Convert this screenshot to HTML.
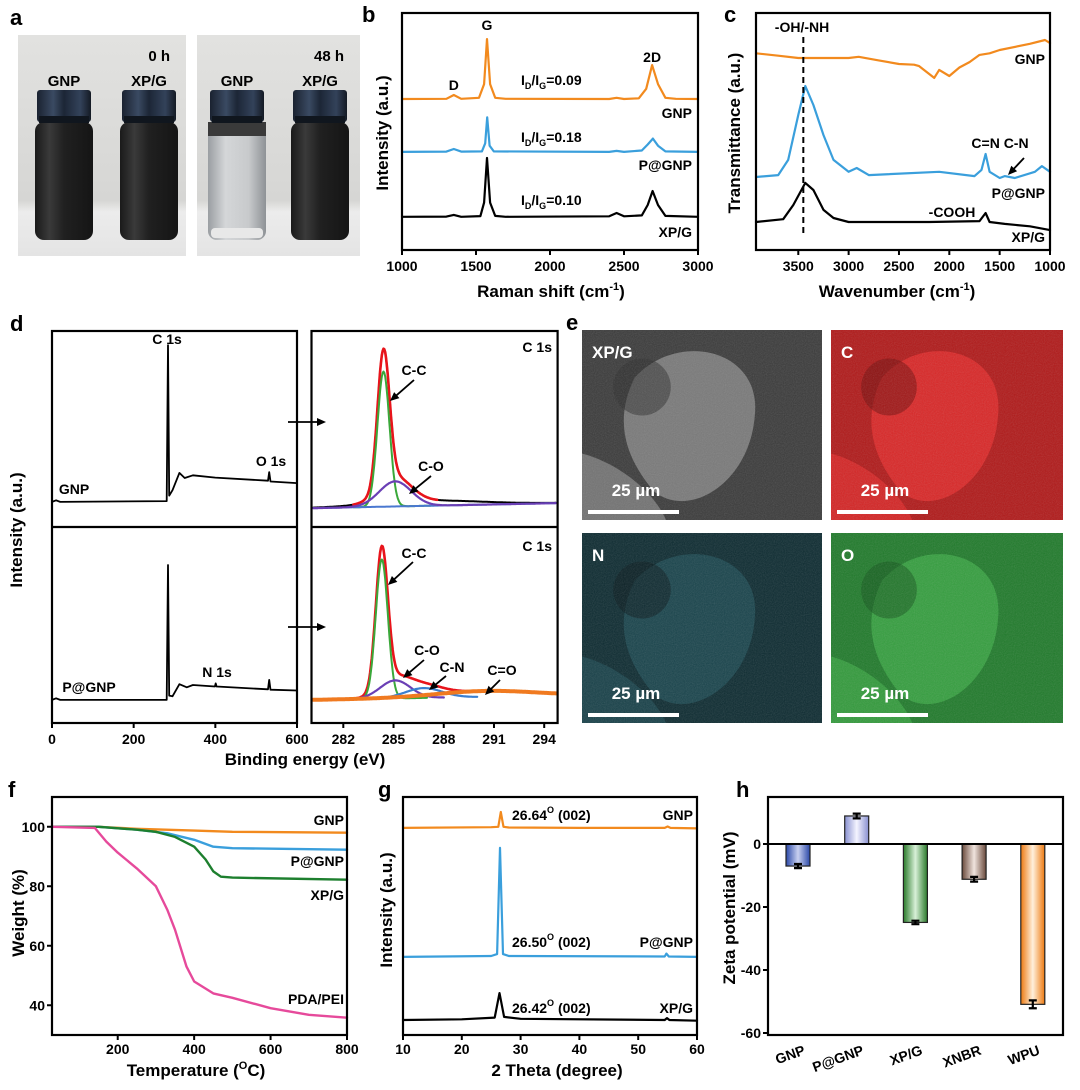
<!DOCTYPE html>
<html><head><meta charset="utf-8"><style>
html,body{margin:0;padding:0;background:#fff}
svg{display:block;font-family:"Liberation Sans",Arial,sans-serif;font-weight:bold}
</style></head><body>
<svg id="fig" xmlns="http://www.w3.org/2000/svg" width="1080" height="1090" viewBox="0 0 1080 1090">
<defs>
<linearGradient id="bg1" x1="0" y1="0" x2="0" y2="1"><stop offset="0" stop-color="#e2e2e0"/><stop offset="0.75" stop-color="#d6d6d4"/><stop offset="0.8" stop-color="#ececec"/><stop offset="1" stop-color="#e4e4e4"/></linearGradient>
<linearGradient id="cap" x1="0" y1="0" x2="1" y2="0"><stop offset="0" stop-color="#1a2230"/><stop offset="0.3" stop-color="#3a4a62"/><stop offset="0.5" stop-color="#1c2636"/><stop offset="0.8" stop-color="#33425a"/><stop offset="1" stop-color="#141a24"/></linearGradient>
<linearGradient id="vdark" x1="0" y1="0" x2="1" y2="0"><stop offset="0" stop-color="#1a1a1a"/><stop offset="0.25" stop-color="#3a3a3a"/><stop offset="0.5" stop-color="#202020"/><stop offset="1" stop-color="#151515"/></linearGradient>
<linearGradient id="vclear" x1="0" y1="0" x2="1" y2="0"><stop offset="0" stop-color="#9a9ea2"/><stop offset="0.3" stop-color="#d4d6d8"/><stop offset="0.7" stop-color="#c8cacc"/><stop offset="1" stop-color="#8e9296"/></linearGradient>
<radialGradient id="semFlake" cx="0.5" cy="0.5" r="0.5"><stop offset="0" stop-color="#8a8a8a"/><stop offset="1" stop-color="#5a5a5a"/></radialGradient>
<filter id="noise" x="0" y="0" width="100%" height="100%"><feTurbulence type="fractalNoise" baseFrequency="0.9" numOctaves="1" result="n"/><feColorMatrix type="saturate" values="0"/><feComponentTransfer><feFuncA type="linear" slope="0.35"/></feComponentTransfer><feComposite in2="SourceGraphic" operator="in"/></filter>
<linearGradient id="hb0" x1="0" y1="0" x2="1" y2="0"><stop offset="0" stop-color="#2a48a8"/><stop offset="0.5" stop-color="#c8d0f0"/><stop offset="1" stop-color="#2a48a8"/></linearGradient>
<linearGradient id="hb1" x1="0" y1="0" x2="1" y2="0"><stop offset="0" stop-color="#8890d0"/><stop offset="0.5" stop-color="#f4f4ff"/><stop offset="1" stop-color="#8890d0"/></linearGradient>
<linearGradient id="hb2" x1="0" y1="0" x2="1" y2="0"><stop offset="0" stop-color="#2a7a2a"/><stop offset="0.5" stop-color="#d8f0d8"/><stop offset="1" stop-color="#2a7a2a"/></linearGradient>
<linearGradient id="hb3" x1="0" y1="0" x2="1" y2="0"><stop offset="0" stop-color="#6a4a3c"/><stop offset="0.5" stop-color="#f0e4de"/><stop offset="1" stop-color="#6a4a3c"/></linearGradient>
<linearGradient id="hb4" x1="0" y1="0" x2="1" y2="0"><stop offset="0" stop-color="#ee7a10"/><stop offset="0.5" stop-color="#fff0dc"/><stop offset="1" stop-color="#ee7a10"/></linearGradient>
</defs>
</svg>
<script>
// ---------- data ----------
// panel b Raman (x: cm-1, y: intensity a.u.)
const ramanGNP=[[1000,63.7],[1300,63.8],[1350,65.4],[1400,63.8],[1520,64.2],[1555,70],[1574,89],[1595,70],[1630,64.2],[1700,63.8],[2400,63.7],[2450,64.2],[2500,63.7],[2600,64],[2650,68],[2690,78],[2730,70],[2780,64.2],[2850,63.8],[3000,63.7]];
const ramanPGNP=[[1000,41.4],[1300,41.5],[1350,42.6],[1400,41.5],[1540,41.6],[1562,45],[1576,56],[1592,44],[1620,41.6],[2400,41.4],[2450,41.8],[2500,41.4],[2620,42],[2660,44.5],[2695,47],[2730,44],[2780,41.6],[3000,41.4]];
const ramanXPG=[[1000,14],[1300,14.1],[1350,14.8],[1400,14],[1530,14.3],[1555,20],[1574,38.8],[1595,20],[1630,14.4],[1700,14],[2400,14.2],[2450,15.6],[2500,14.2],[2620,14.6],[2660,19],[2693,24.9],[2730,19],[2780,14.4],[3000,14]];
// panel c FTIR
const ftirGNP=[[3920,83],[3700,82],[3500,81],[3000,81],[2900,81.5],[2700,80],[2500,78.5],[2350,78.2],[2300,77.6],[2150,72.6],[2100,76],[2000,73.4],[1900,77],[1800,79.3],[1700,82.3],[1600,83],[1500,84.4],[1200,87],[1050,88.6],[1000,87.3]];
const ftirPGNP=[[3920,30.8],[3700,31.6],[3600,38],[3500,57],[3430,69.2],[3350,61.2],[3250,48.5],[3150,38],[3000,33],[2920,34.6],[2800,31.6],[2100,33],[1750,31.2],[1680,33.8],[1640,40.5],[1600,33],[1500,30.4],[1450,31.2],[1350,30.4],[1150,33],[1080,35.4],[1000,33]];
const ftirXPG=[[3920,11.8],[3650,13],[3550,19],[3430,28.3],[3350,25.3],[3250,16.9],[3150,13.5],[3000,11.8],[2200,11.8],[1700,12.2],[1640,15.6],[1600,11.8],[1450,11],[1200,10],[1000,8.4]];
// panel d survey
const surveyGNP=[[0,56.4],[10,56.8],[20,56.4],[281,56.6],[284,96.4],[287,58],[295,59.4],[312,63.8],[325,62.5],[345,63.2],[400,62.6],[529,61.8],[532,64],[535,61.6],[600,61.2]];
const surveyPGNP=[[0,5.9],[10,6.3],[20,5.9],[281,5.9],[284,40.3],[287,7],[295,6.8],[312,9.9],[330,9.1],[345,9.7],[399,9.3],[401,10.1],[403,9.3],[529,8.6],[532,11],[535,8.5],[600,8.3]];
// panel d XPS C1s components [center eV, height, sigma]
const xpsTopBase=[54.8,56.1];
const xpsTopCC=[284.4,34.5,0.36];
const xpsTopCO=[285.1,6.4,0.95];
const xpsTopTail=[287.0,1.3,3.2];
const xpsBotBase=[5.9,7.0];
const xpsBotCC=[284.3,35.5,0.36];
const xpsBotCO=[285.1,4.6,0.9];
const xpsBotCN=[286.8,2.5,1.1];
const xpsBotCdO=[290.5,1.5,3];
// panel f TGA
const tgaGNP=[[28,100],[150,100],[250,99.3],[400,98.7],[500,98.3],[800,98]];
const tgaPGNP=[[28,100],[150,100],[250,99],[330,97.8],[400,95.6],[450,93.3],[500,92.8],[800,92.3]];
const tgaXPG=[[28,100],[150,100],[250,99],[300,98.3],[350,96.6],[400,93.3],[430,89],[450,85],[470,83.2],[500,82.9],[800,82.2]];
const tgaPDA=[[28,100],[140,99.6],[170,95],[200,91.3],[250,86],[300,80],[330,72],[350,65.4],[380,53],[400,48],[450,44],[500,42.5],[600,39],[700,36.8],[800,35.8]];
// panel g XRD
const xrdGNP=[[10,87],[25,87.3],[26.2,87.5],[26.64,93.7],[27.1,87.5],[28,87.2],[40,87],[54.5,87],[55,87.6],[55.5,87],[60,86.8]];
const xrdPGNP=[[10,32.8],[25,33.2],[26.0,34],[26.5,78.6],[27.0,34],[28,33.2],[54.5,33],[54.8,34.2],[55.2,33],[60,32.8]];
const xrdXPG=[[10,6.3],[20,6.6],[25.6,7.3],[26.42,17.6],[27.2,7.6],[30,6.8],[54.5,6.3],[54.9,7.1],[55.3,6.3],[60,6]];
// panel h zeta
const zetaCats=["GNP","P@GNP","XP/G","XNBR","WPU"];
const zetaVals=[-7,8.9,-24.9,-11.2,-50.9];
const zetaErr=[0.4,0.5,0.3,0.5,1.0];
const zetaTicks=[0,-20,-40,-60];

// ---------- helpers ----------
const NS="http://www.w3.org/2000/svg";
const svg=document.getElementById('fig');
function mk(tag,attrs,parent,name,inter){
  const el=document.createElementNS(NS,tag);
  for(const k in attrs) el.setAttribute(k,attrs[k]);
  
  
  (parent||svg).appendChild(el);
  return el;
}
function txt(x,y,s,size,anchor,name,parent,extra){
  const a=Object.assign({x:x,y:y,'font-size':size,'text-anchor':anchor||'middle',fill:'#000'},extra||{});
  const t=mk('text',a,parent,name,false);
  t.textContent=s;
  return t;
}
function pathFrom(pts,sx,sy){return pts.map((p,i)=>(i?'L':'M')+sx(p[0]).toFixed(1)+' '+sy(p[1]).toFixed(1)).join(' ');}
function line(pts,sx,sy,color,w,name,parent){
  return mk('path',{d:pathFrom(pts,sx,sy),fill:'none',stroke:color,'stroke-width':w,'stroke-linejoin':'round','stroke-linecap':'round'},parent,name,false);
}
function box(x0,y0,x1,y1,name){mk('rect',{x:x0,y:y0,width:x1-x0,height:y1-y0,fill:'none',stroke:'#000','stroke-width':2.2},svg,name,false);}
function xticks(vals,sx,y,labY,name,size){
  const g=mk('g',{},svg,name,false);
  vals.forEach(v=>{mk('line',{x1:sx(v),x2:sx(v),y1:y,y2:y+5,stroke:'#000','stroke-width':2},g,'x-tick',false);
    txt(sx(v),labY,String(v),size||14,'middle','x-tick-label',g);});
}
function yticks(vals,sy,x,name){
  const g=mk('g',{},svg,name,false);
  vals.forEach(v=>{mk('line',{x1:x-5,x2:x,y1:sy(v),y2:sy(v),stroke:'#000','stroke-width':2},g,'y-tick',false);
    txt(x-7,sy(v)+5,String(v),14,'end','y-tick-label',g);});
}
function arrow(x1,y1,x2,y2,name){
  const g=mk('g',{},svg,name,false);
  const a=Math.atan2(y2-y1,x2-x1),L=9,W=4;
  mk('line',{x1:x1,y1:y1,x2:x2-Math.cos(a)*6,y2:y2-Math.sin(a)*6,stroke:'#000','stroke-width':1.8},g,'arrow-shaft',false);
  const px=x2-Math.cos(a)*L,py=y2-Math.sin(a)*L;
  mk('polygon',{points:`${x2},${y2} ${px-Math.sin(a)*W},${py+Math.cos(a)*W} ${px+Math.sin(a)*W},${py-Math.cos(a)*W}`,fill:'#000'},g,'arrow-head',false);
}
function rotTitle(x,y,s,name,size){return txt(x,y,s,size||17,'middle',name,svg,{transform:`rotate(-90 ${x} ${y})`});}
function supTitle(x,y,pre,sup,post,name){
  const t=mk('text',{x:x,y:y,'font-size':17,'text-anchor':'middle'},svg,name,false);
  t.appendChild(document.createTextNode(pre));
  const s=document.createElementNS(NS,'tspan');s.setAttribute('dy','-7');s.setAttribute('font-size','11');s.textContent=sup;t.appendChild(s);
  const p=document.createElementNS(NS,'tspan');p.setAttribute('dy','7');p.textContent=post;t.appendChild(p);
  return t;
}
function ratioLabel(x,y,val,name){
  const t=mk('text',{x:x,y:y,'font-size':14,'text-anchor':'start'},svg,name,false);
  t.appendChild(document.createTextNode('I'));
  let s=document.createElementNS(NS,'tspan');s.setAttribute('dy','4');s.setAttribute('font-size','9');s.textContent='D';t.appendChild(s);
  s=document.createElementNS(NS,'tspan');s.setAttribute('dy','-4');s.textContent='/I';t.appendChild(s);
  s=document.createElementNS(NS,'tspan');s.setAttribute('dy','4');s.setAttribute('font-size','9');s.textContent='G';t.appendChild(s);
  s=document.createElementNS(NS,'tspan');s.setAttribute('dy','-4');s.textContent='='+val;t.appendChild(s);
}
function letter(x,y,s){txt(x,y,s,22,'start','panel-label-'+s);}
const ORANGE='#f28a1e',BLUE='#3a9fdc',GREEN='#1d7f2e',PINK='#e64a9b';

// ---------- panel a : photos ----------
letter(10,25,'a');
function photo(x0,x1,vials,timeLabel,name){
  const g=mk('g',{},svg,name,false);
  mk('rect',{x:x0,y:35,width:x1-x0,height:221,fill:'url(#bg1)'},g,'photo-background',false);
  vials.forEach(v=>{
    const cx=v.cx;
    mk('rect',{x:cx-29,y:122,width:58,height:118,rx:9,fill:v.clear?'url(#vclear)':'url(#vdark)'},g,'vial-body',false);
    if(v.clear){mk('rect',{x:cx-29,y:122,width:58,height:14,fill:'#3a3a3a'},g,'vial-dark-top',false);
      mk('rect',{x:cx-26,y:228,width:52,height:10,rx:4,fill:'#e8e8e8'},g,'vial-sediment',false);}
    mk('rect',{x:cx-27,y:90,width:54,height:32,rx:3,fill:'url(#cap)'},g,'vial-cap',false);
    mk('rect',{x:cx-25,y:116,width:50,height:7,fill:'#10161e'},g,'vial-neck',false);
  });
  txt(x1-16,61,timeLabel,15,'end','photo-time-label',g);
  txt(vials[0].cx,86,'GNP',15,'middle','vial-label-gnp',g);
  txt(vials[1].cx,86,'XP/G',15,'middle','vial-label-xpg',g);
}
photo(18,186,[{cx:64,clear:false},{cx:149,clear:false}],'0 h','photo-0h');
photo(197,360,[{cx:237,clear:true},{cx:320,clear:false}],'48 h','photo-48h');

// ---------- panel b : Raman ----------
letter(362,22,'b');
const bx=v=>402+(v-1000)/2000*296, by=v=>250-v*2.37;
line(ramanGNP,bx,by,ORANGE,2.2,'raman-gnp-line');
line(ramanPGNP,bx,by,BLUE,2.2,'raman-pgnp-line');
line(ramanXPG,bx,by,'#000',2.2,'raman-xpg-line');
box(402,13,698,250,'raman-plot-frame');
xticks([1000,1500,2000,2500,3000],bx,250,271,'raman-x-axis');
supTitle(551,297,'Raman shift (cm','-1',')','raman-x-title');
rotTitle(388,133,'Intensity (a.u.)','raman-y-title');
txt(bx(1574),30,'G',14,'middle','raman-label-g');
txt(bx(1350),90,'D',14,'middle','raman-label-d');
txt(bx(2690),62,'2D',14,'middle','raman-label-2d');
ratioLabel(521,85,'0.09','raman-ratio-gnp');
ratioLabel(521,142,'0.18','raman-ratio-pgnp');
ratioLabel(521,205,'0.10','raman-ratio-xpg');
txt(692,118,'GNP',14,'end','raman-legend-gnp');
txt(692,170,'P@GNP',14,'end','raman-legend-pgnp');
txt(692,237,'XP/G',14,'end','raman-legend-xpg');

// ---------- panel c : FTIR ----------
letter(724,22,'c');
const cx_=v=>756+(3920-v)/2920*294, cy=v=>250-v*2.37;
line(ftirGNP,cx_,cy,ORANGE,2.2,'ftir-gnp-line');
line(ftirPGNP,cx_,cy,BLUE,2.2,'ftir-pgnp-line');
line(ftirXPG,cx_,cy,'#000',2.2,'ftir-xpg-line');
mk('line',{x1:cx_(3450),x2:cx_(3450),y1:37,y2:233,stroke:'#000','stroke-width':2,'stroke-dasharray':'6 4'},svg,'ftir-oh-dashed-line',false);
box(756,13,1050,250,'ftir-plot-frame');
xticks([3500,3000,2500,2000,1500,1000],cx_,250,271,'ftir-x-axis');
supTitle(897,297,'Wavenumber (cm','-1',')','ftir-x-title');
rotTitle(740,133,'Transmittance (a.u.)','ftir-y-title');
txt(802,32,'-OH/-NH',14,'middle','ftir-label-ohnh');
txt(1045,64,'GNP',14,'end','ftir-legend-gnp');
txt(1000,148,'C=N C-N',14,'middle','ftir-label-cn');
arrow(1024,158,1008,175,'ftir-cn-arrow');
txt(1045,198,'P@GNP',14,'end','ftir-legend-pgnp');
txt(952,217,'-COOH',14,'middle','ftir-label-cooh');
txt(1045,242,'XP/G',14,'end','ftir-legend-xpg');

// ---------- panel d : XPS ----------
letter(10,331,'d');
const dlx=v=>52+v/600*245, dy=v=>723-v*3.92;
line(surveyGNP,dlx,dy,'#000',1.8,'survey-gnp-line');
line(surveyPGNP,dlx,dy,'#000',1.8,'survey-pgnp-line');
box(52,331,297,723,'survey-plot-frame');
mk('line',{x1:52,x2:297,y1:527,y2:527,stroke:'#000','stroke-width':2.2},svg,'survey-divider',false);
xticks([0,200,400,600],dlx,723,744,'survey-x-axis');
txt(167,344,'C 1s',14,'middle','survey-label-c1s');
txt(271,466,'O 1s',14,'middle','survey-label-o1s');
txt(74,494,'GNP',14,'middle','survey-label-gnp');
txt(89,692,'P@GNP',14,'middle','survey-label-pgnp');
txt(217,677,'N 1s',14,'middle','survey-label-n1s');
rotTitle(22,530,'Intensity (a.u.)','xps-y-title');
txt(305,765,'Binding energy (eV)',17,'middle','xps-x-title');
arrow(288,422,326,422,'zoom-arrow-top');
arrow(288,627,326,627,'zoom-arrow-bottom');

const drx=v=>311.5+(v-280.1)/14.7*246.1;
function gauss(p,x){return p[1]*Math.exp(-((x-p[0])**2)/(2*p[2]*p[2]));}
function compLine(base,comps,x0,x1,color,w,name){
  const pts=[];
  for(let x=x0;x<=x1+1e-9;x+=0.05){
    const b=base[0]+(base[1]-base[0])*(x-280.1)/14.7;
    let s=b; comps.forEach(c=>{s+=gauss(c,x);});
    pts.push([x,s]);
  }
  return line(pts,drx,dy,color,w,name);
}
// top C1s
compLine(xpsTopBase,[xpsTopCC,xpsTopCO,xpsTopTail],280.2,294.7,'#000',2,'xps-gnp-raw');
compLine(xpsTopBase,[xpsTopCC,xpsTopCO,xpsTopTail],282.6,287.6,'#e8141b',2.6,'xps-gnp-envelope');
compLine(xpsTopBase,[xpsTopCC],282.6,287.2,'#3aa83a',2,'xps-gnp-cc');
compLine(xpsTopBase,[],280.2,294.7,'#4a78d0',2,'xps-gnp-baseline');
compLine(xpsTopBase,[xpsTopCO],280.2,294.7,'#6a3fb5',2.2,'xps-gnp-co');
// bottom C1s
compLine(xpsBotBase,[xpsBotCC,xpsBotCO,xpsBotCN,xpsBotCdO],282.4,292.5,'#e8141b',2.6,'xps-pgnp-envelope');
compLine(xpsBotBase,[xpsBotCC],282.4,287,'#3aa83a',2,'xps-pgnp-cc');
compLine(xpsBotBase,[xpsBotCO],283,288,'#6a3fb5',2.2,'xps-pgnp-co');
compLine(xpsBotBase,[xpsBotCN],283.5,290,'#3a7fd0',2.2,'xps-pgnp-cn');
compLine(xpsBotBase,[xpsBotCdO],280.2,294.7,'#f07a20',4,'xps-pgnp-cdo');
box(311.5,331,557.6,723,'xps-plot-frame');
mk('line',{x1:311.5,x2:557.6,y1:527,y2:527,stroke:'#000','stroke-width':2.2},svg,'xps-divider',false);
xticks([282,285,288,291,294],drx,723,744,'xps-x-axis');
txt(552,352,'C 1s',14,'end','xps-top-c1s');
txt(552,551,'C 1s',14,'end','xps-bottom-c1s');
txt(414,375,'C-C',14,'middle','xps-top-cc-label');arrow(414,380,390,401,'xps-top-cc-arrow');
txt(431,471,'C-O',14,'middle','xps-top-co-label');arrow(431,476,409,494,'xps-top-co-arrow');
txt(414,558,'C-C',14,'middle','xps-bot-cc-label');arrow(413,562,388,585,'xps-bot-cc-arrow');
txt(427,655,'C-O',14,'middle','xps-bot-co-label');arrow(424,660,403,678,'xps-bot-co-arrow');
txt(452,672,'C-N',14,'middle','xps-bot-cn-label');arrow(446,676,429,690,'xps-bot-cn-arrow');
txt(502,675,'C=O',14,'middle','xps-bot-cdo-label');arrow(500,680,485,695,'xps-bot-cdo-arrow');

// ---------- panel e : SEM / EDS ----------
letter(566,330,'e');
function emap(x0,y0,w,h,base,light,dark,label,name){
  const g=mk('g',{},svg,name,false);
  mk('rect',{x:x0,y:y0,width:w,height:h,fill:base},g,'map-background',false);
  mk('path',{d:`M${x0+w*0.22} ${y0+h*0.25} C ${x0+w*0.4} ${y0} ${x0+w*0.75} ${y0+h*0.1} ${x0+w*0.72} ${y0+h*0.45} C ${x0+w*0.7} ${y0+h*0.8} ${x0+w*0.45} ${y0+h} ${x0+w*0.3} ${y0+h*0.85} C ${x0+w*0.2} ${y0+h*0.7} ${x0+w*0.12} ${y0+h*0.5} ${x0+w*0.22} ${y0+h*0.25} Z`,fill:light,opacity:0.8},g,'map-flake',false);
  mk('path',{d:`M${x0} ${y0+h*0.65} C ${x0+w*0.15} ${y0+h*0.7} ${x0+w*0.3} ${y0+h*0.85} ${x0+w*0.35} ${y0+h} L ${x0} ${y0+h} Z`,fill:light,opacity:0.7},g,'map-lower-flake',false);
  mk('ellipse',{cx:x0+w*0.25,cy:y0+h*0.3,rx:w*0.12,ry:h*0.15,fill:dark,opacity:0.5},g,'map-dark-region',false);
  mk('rect',{x:x0,y:y0,width:w,height:h,fill:'#fff',filter:'url(#noise)',opacity:0.6},g,'map-noise',false);
  txt(x0+10,y0+28,label,17,'start','map-label',g,{fill:'#fff'});
  txt(x0+54,y0+h-24,'25 µm',17,'middle','scale-bar-label',g,{fill:'#fff'});
  mk('rect',{x:x0+6,y:y0+h-10,width:91,height:4,fill:'#fff'},g,'scale-bar',false);
}
emap(582,330,240,190,'#3a3a3a','#8a8a8a','#2a2a2a','XP/G','sem-image');
emap(831,330,232,190,'#b01818','#e42a2a','#6a0808','C','eds-map-carbon');
emap(582,533,240,190,'#0c2a30','#1c4a52','#061418','N','eds-map-nitrogen');
emap(831,533,232,190,'#1f7a2a','#3aa843','#105018','O','eds-map-oxygen');

// ---------- panel f : TGA ----------
letter(8,797,'f');
const fx=v=>52+(v-28)/772*295, fy=v=>1035-(v-30)/80*238;
line(tgaGNP,fx,fy,ORANGE,2.4,'tga-gnp-line');
line(tgaPGNP,fx,fy,BLUE,2.4,'tga-pgnp-line');
line(tgaXPG,fx,fy,GREEN,2.4,'tga-xpg-line');
line(tgaPDA,fx,fy,PINK,2.4,'tga-pdapei-line');
box(52,797,347,1035,'tga-plot-frame');
xticks([200,400,600,800],fx,1035,1054,'tga-x-axis');
yticks([40,60,80,100],fy,52,'tga-y-axis');
supTitle(196,1076,'Temperature (','O','C)','tga-x-title');
rotTitle(24,913,'Weight (%)','tga-y-title');
txt(344,825,'GNP',14,'end','tga-legend-gnp');
txt(344,866,'P@GNP',14,'end','tga-legend-pgnp');
txt(344,900,'XP/G',14,'end','tga-legend-xpg');
txt(344,1004,'PDA/PEI',14,'end','tga-legend-pdapei');

// ---------- panel g : XRD ----------
letter(378,797,'g');
const gx=v=>403+(v-10)/50*294, gy=v=>1035-v*2.38;
line(xrdGNP,gx,gy,ORANGE,2.2,'xrd-gnp-line');
line(xrdPGNP,gx,gy,BLUE,2.2,'xrd-pgnp-line');
line(xrdXPG,gx,gy,'#000',2.2,'xrd-xpg-line');
box(403,797,697,1035,'xrd-plot-frame');
xticks([10,20,30,40,50,60],gx,1035,1054,'xrd-x-axis');
txt(557,1076,'2 Theta (degree)',17,'middle','xrd-x-title');
rotTitle(392,910,'Intensity (a.u.)','xrd-y-title');
function peakLabel(y,val,name){
  const t=mk('text',{x:512,y:y,'font-size':14,'text-anchor':'start'},svg,name,false);
  t.appendChild(document.createTextNode(val));
  const s=document.createElementNS(NS,'tspan');s.setAttribute('dy','-7');s.setAttribute('font-size','9');s.textContent='O';t.appendChild(s);
  const p=document.createElementNS(NS,'tspan');p.setAttribute('dy','7');p.textContent='  (002)';t.appendChild(p);
}
peakLabel(820,'26.64','xrd-peak-label-gnp');
peakLabel(947,'26.50','xrd-peak-label-pgnp');
peakLabel(1013,'26.42','xrd-peak-label-xpg');
txt(693,820,'GNP',14,'end','xrd-legend-gnp');
txt(693,947,'P@GNP',14,'end','xrd-legend-pgnp');
txt(693,1013,'XP/G',14,'end','xrd-legend-xpg');

// ---------- panel h : zeta ----------
letter(736,797,'h');
const hy=v=>844-v*3.15;
const hx=i=>798+i*58.7;
const hg=mk('g',{},svg,'zeta-bars',false);
zetaVals.forEach((v,i)=>{
  const y0=Math.min(hy(0),hy(v)),hgt=Math.abs(hy(v)-hy(0));
  const b=document.createElementNS(NS,'rect');
  b.setAttribute('x',hx(i)-12);b.setAttribute('y',y0);b.setAttribute('width',24);b.setAttribute('height',hgt);
  b.setAttribute('fill','url(#hb'+i+')');b.setAttribute('stroke','#222');b.setAttribute('stroke-width','1.2');
  
  
  hg.appendChild(b);
  const e=document.createElementNS(NS,'path');
  const yt=hy(v),d=zetaErr[i]*3.15+0.8;
  e.setAttribute('d',`M${hx(i)} ${yt-d} V${yt+d} M${hx(i)-4} ${yt-d} H${hx(i)+4} M${hx(i)-4} ${yt+d} H${hx(i)+4}`);
  e.setAttribute('stroke','#000');e.setAttribute('stroke-width','2.2');e.setAttribute('fill','none');
  
  
  hg.appendChild(e);
  const t=document.createElementNS(NS,'text');
  t.setAttribute('x',hx(i)+8);t.setAttribute('y',1054);t.setAttribute('font-size','14');t.setAttribute('text-anchor','end');
  t.setAttribute('transform',`rotate(-20 ${hx(i)+8} 1054)`);
  t.textContent=zetaCats[i];
  
  
  hg.appendChild(t);
});
mk('line',{x1:768,x2:1063,y1:hy(0),y2:hy(0),stroke:'#000','stroke-width':2},svg,'zeta-zero-line',false);
box(768,797,1063,1035,'zeta-plot-frame');
yticks(zetaTicks,hy,768,'zeta-y-axis');
rotTitle(735,908,'Zeta potential (mV)','zeta-y-title');
</script>
</body></html>
